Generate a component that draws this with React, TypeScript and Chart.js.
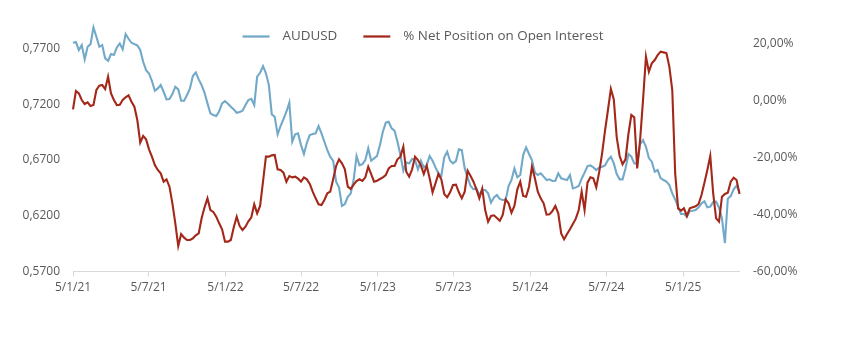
import React, { useEffect, useRef } from 'react';
import { Chart, registerables } from 'chart.js';

Chart.register(...registerables);

const DAY_MS = 86400000;
const START_DATE = Date.UTC(2021, 0, 5);
const WEEK_COUNT = 229;
// weekly observation dates (Tuesdays), expressed as days since start
const weekDays: number[] = Array.from({ length: WEEK_COUNT }, (_, i) => i * 7);

const tickDates: string[] = [
  '2021-01-05', '2021-07-05', '2022-01-05', '2022-07-05', '2023-01-05',
  '2023-07-05', '2024-01-05', '2024-07-05', '2025-01-05',
];

const leftTicks: number[] = [0.57, 0.62, 0.67, 0.72, 0.77];
const rightTicks: number[] = [-60, -40, -20, 0, 20];

const audusd: number[] = [
  0.7750, 0.7756, 0.7685, 0.7729, 0.7601, 0.7714, 0.7738, 0.7888, 0.7804, 0.7714,
  0.7729, 0.7610, 0.7589, 0.7649, 0.7640, 0.7708, 0.7744, 0.7691, 0.7828, 0.7786,
  0.7750, 0.7738, 0.7726, 0.7685, 0.7580, 0.7505, 0.7475, 0.7407, 0.7320, 0.7341,
  0.7371, 0.7311, 0.7243, 0.7246, 0.7290, 0.7356, 0.7332, 0.7231, 0.7231, 0.7281,
  0.7341, 0.7452, 0.7484, 0.7422, 0.7371, 0.7302, 0.7207, 0.7117, 0.7102, 0.7093,
  0.7135, 0.7207, 0.7228, 0.7204, 0.7177, 0.7153, 0.7123, 0.7129, 0.7141, 0.7192,
  0.7237, 0.7248, 0.7192, 0.7446, 0.7481, 0.7541, 0.7476, 0.7371, 0.7108, 0.7087,
  0.6929, 0.7004, 0.7066, 0.7132, 0.7213, 0.6863, 0.6929, 0.6938, 0.6833, 0.6753,
  0.6854, 0.6923, 0.6932, 0.6938, 0.7004, 0.6938, 0.6863, 0.6788, 0.6726, 0.6693,
  0.6505, 0.6454, 0.6287, 0.6305, 0.6370, 0.6400, 0.6520, 0.6735, 0.6651, 0.6663,
  0.6699, 0.6804, 0.6693, 0.6714, 0.6735, 0.6833, 0.6953, 0.7034, 0.7042, 0.6983,
  0.6962, 0.6863, 0.6744, 0.6603, 0.6678, 0.6669, 0.6708, 0.6699, 0.6615, 0.6693,
  0.6633, 0.6654, 0.6735, 0.6693, 0.6633, 0.6580, 0.6556, 0.6723, 0.6774, 0.6693,
  0.6669, 0.6690, 0.6795, 0.6789, 0.6624, 0.6541, 0.6466, 0.6436, 0.6445, 0.6385,
  0.6430, 0.6430, 0.6400, 0.6317, 0.6364, 0.6385, 0.6350, 0.6341, 0.6341, 0.6466,
  0.6520, 0.6624, 0.6544, 0.6565, 0.6744, 0.6812, 0.6753, 0.6699, 0.6586, 0.6565,
  0.6580, 0.6550, 0.6520, 0.6526, 0.6511, 0.6514, 0.6580, 0.6535, 0.6526, 0.6520,
  0.6565, 0.6445, 0.6454, 0.6466, 0.6532, 0.6586, 0.6645, 0.6651, 0.6633, 0.6609,
  0.6633, 0.6639, 0.6651, 0.6699, 0.6729, 0.6669, 0.6573, 0.6526, 0.6526, 0.6624,
  0.6753, 0.6729, 0.6669, 0.6663, 0.6842, 0.6878, 0.6818, 0.6717, 0.6684, 0.6594,
  0.6609, 0.6538, 0.6520, 0.6505, 0.6475, 0.6400, 0.6346, 0.6281, 0.6215, 0.6215,
  0.6191, 0.6242, 0.6245, 0.6251, 0.6275, 0.6311, 0.6329, 0.6275, 0.6281, 0.6323,
  0.6326, 0.6272, 0.6176, 0.5955, 0.6352, 0.6376, 0.6436, 0.6469, 0.6412,
];

const netPosition: number[] = [
  -2.98, 3.47, 2.65, 0.30, -1.10, -0.52, -1.81, -1.46, 3.82, 5.34,
  5.58, 4.17, 8.51, 2.65, 0.30, -1.46, -1.34, 0.30, 1.24, 1.94,
  -0.28, -2.04, -6.73, -14.70, -12.36, -13.53, -17.04, -19.62, -22.55, -24.31,
  -25.48, -28.41, -27.59, -30.17, -36.03, -43.06, -51.03, -46.81, -48.10, -48.92,
  -48.92, -48.34, -47.28, -46.58, -41.30, -37.44, -34.27, -38.37, -39.08, -40.72,
  -43.06, -45.17, -49.51, -49.51, -48.92, -44.47, -40.72, -44.00, -45.41, -44.23,
  -42.36, -40.95, -36.38, -39.55, -36.97, -28.41, -19.62, -19.62, -19.15, -19.04,
  -24.08, -24.31, -25.25, -28.41, -26.42, -26.89, -26.65, -27.36, -28.41, -26.89,
  -27.59, -29.23, -31.93, -34.27, -36.38, -36.62, -34.86, -32.51, -31.93, -27.59,
  -22.91, -20.56, -21.97, -24.08, -30.17, -30.99, -29.47, -28.18, -27.59, -28.18,
  -26.89, -23.14, -25.72, -28.41, -28.06, -27.48, -26.89, -26.07, -23.73, -22.91,
  -22.91, -20.56, -19.62, -16.11, -24.90, -26.66, -24.08, -19.62, -20.80, -22.67,
  -25.72, -22.79, -27.24, -32.16, -29.00, -25.72, -27.59, -32.75, -33.92, -32.16,
  -29.59, -29.47, -32.16, -34.27, -31.93, -24.55, -26.42, -28.41, -31.11, -34.27,
  -30.88, -38.38, -42.48, -40.49, -40.25, -41.19, -42.13, -40.13, -34.63, -36.03,
  -39.31, -36.97, -31.11, -28.41, -33.45, -33.69, -30.17, -23.14, -27.24, -31.93,
  -34.27, -36.03, -40.02, -39.90, -38.73, -36.97, -39.55, -46.58, -48.69, -46.81,
  -45.17, -43.30, -41.42, -38.38, -31.93, -38.38, -28.77, -26.89, -27.24, -30.41,
  -25.01, -18.45, -10.48, -3.21, 4.20, 0.50, -12.82, -19.39, -22.32, -20.56,
  -11.65, -4.97, -5.79, -23.72, -13.76, 0.30, 15.54, 10.27, 13.20, 14.37,
  16.13, 17.30, 17.06, 16.83, 12.02, 3.82, -25.48, -37.79, -38.61, -37.79,
  -40.48, -37.79, -37.43, -37.08, -36.26, -33.10, -28.80, -24.31, -19.39, -32.51,
  -41.30, -42.47, -33.68, -32.74, -32.28, -28.41, -27.00, -27.82, -32.74,
];

const FONT_FAMILY = '"Open Sans", "Noto Sans", sans-serif';
const TEXT_COLOR = '#595959';
const BLUE = '#72A9C9';
const RED = '#A3281A';

const dayOf = (iso: string) => (Date.parse(iso + 'T00:00:00Z') - START_DATE) / DAY_MS;
const fmtDate = (day: number) => {
  const d = new Date(START_DATE + day * DAY_MS);
  return `${d.getUTCDate()}/${d.getUTCMonth() + 1}/${String(d.getUTCFullYear()).slice(2)}`;
};

const legendPlugin = {
  id: 'excelLegend',
  afterDraw(chart: any) {
    const ctx = chart.ctx as CanvasRenderingContext2D;
    ctx.save();
    ctx.font = `13.4px ${FONT_FAMILY}`;
    ctx.textBaseline = 'middle';
    const items = chart.data.datasets.map((ds: any) => ({ label: ds.label, color: ds.borderColor }));
    const lineW = 27, gap = 13, itemGap = 26;
    const widths = items.map((it: any) => lineW + gap + ctx.measureText(it.label).width);
    const total = widths.reduce((a: number, b: number) => a + b, 0) + itemGap * (items.length - 1);
    let x = 423 - total / 2;
    const y = 36.5;
    items.forEach((it: any, i: number) => {
      ctx.strokeStyle = it.color;
      ctx.lineWidth = 2.25;
      ctx.beginPath();
      ctx.moveTo(x, y);
      ctx.lineTo(x + lineW, y);
      ctx.stroke();
      ctx.fillStyle = TEXT_COLOR;
      ctx.textAlign = 'left';
      ctx.fillText(it.label, x + lineW + gap, y);
      x += widths[i] + itemGap;
    });
    ctx.restore();
  },
};

export default function App() {
  const ref = useRef<HTMLCanvasElement | null>(null);

  useEffect(() => {
    document.body.style.margin = '0';
    if (!ref.current) return;
    const font = { family: FONT_FAMILY, size: 12 };
    const lastDay = weekDays[weekDays.length - 1];
    const tickDays = tickDates.map(dayOf);

    const chart = new Chart(ref.current, {
      type: 'line',
      data: {
        datasets: [
          {
            label: 'AUDUSD',
            data: audusd.map((v, i) => ({ x: weekDays[i], y: v })),
            borderColor: BLUE,
            backgroundColor: BLUE,
            borderWidth: 2.1,
            pointRadius: 0,
            tension: 0,
            yAxisID: 'y',
            order: 2,
            clip: false as any,
          },
          {
            label: '% Net Position on Open Interest',
            data: netPosition.map((v, i) => ({ x: weekDays[i], y: v })),
            borderColor: RED,
            backgroundColor: RED,
            borderWidth: 2.1,
            pointRadius: 0,
            tension: 0,
            yAxisID: 'y1',
            order: 1,
            clip: false as any,
          },
        ],
      },
      options: {
        animation: false,
        responsive: false,
        devicePixelRatio: 1,
        layout: { padding: { top: 44, left: 0, right: 0, bottom: 0 } },
        plugins: { legend: { display: false }, tooltip: { enabled: false } },
        scales: {
          x: {
            type: 'linear',
            min: 0,
            max: lastDay,
            afterBuildTicks: (s: any) => { s.ticks = tickDays.map((v) => ({ value: v })); },
            afterFit: (s: any) => { s.height = 71.5; },
            ticks: {
              callback: (v: any) => fmtDate(Number(v)),
              font, color: TEXT_COLOR, padding: 4, maxRotation: 0, autoSkip: false,
            },
            grid: { display: true, drawOnChartArea: false, drawTicks: true, tickLength: 5, color: '#d9d9d9' },
            border: { display: true, color: '#d9d9d9', width: 1 },
          },
          y: {
            position: 'left',
            min: 0.57,
            max: 0.7739,
            afterBuildTicks: (s: any) => { s.ticks = leftTicks.map((v) => ({ value: v })); },
            afterFit: (s: any) => { s.width = 73; },
            ticks: {
              callback: (v: any) => Number(v).toFixed(4).replace('.', ','),
              font, color: TEXT_COLOR, padding: 13,
            },
            grid: { display: false, drawTicks: false },
            border: { display: false },
          },
          y1: {
            position: 'right',
            min: -60,
            max: 20,
            afterBuildTicks: (s: any) => { s.ticks = rightTicks.map((v) => ({ value: v })); },
            afterFit: (s: any) => { s.width = 101.5; },
            ticks: {
              callback: (v: any) => Number(v).toFixed(2).replace('.', ',') + '%',
              font, color: TEXT_COLOR, padding: 13.5,
            },
            grid: { display: false, drawTicks: false },
            border: { display: false },
          },
        },
      },
      plugins: [legendPlugin],
    });
    return () => chart.destroy();
  }, []);

  return (
    <div style={{ width: 841, height: 343, background: '#ffffff' }}>
      <canvas ref={ref} width={841} height={343} style={{ display: 'block' }} />
    </div>
  );
}
